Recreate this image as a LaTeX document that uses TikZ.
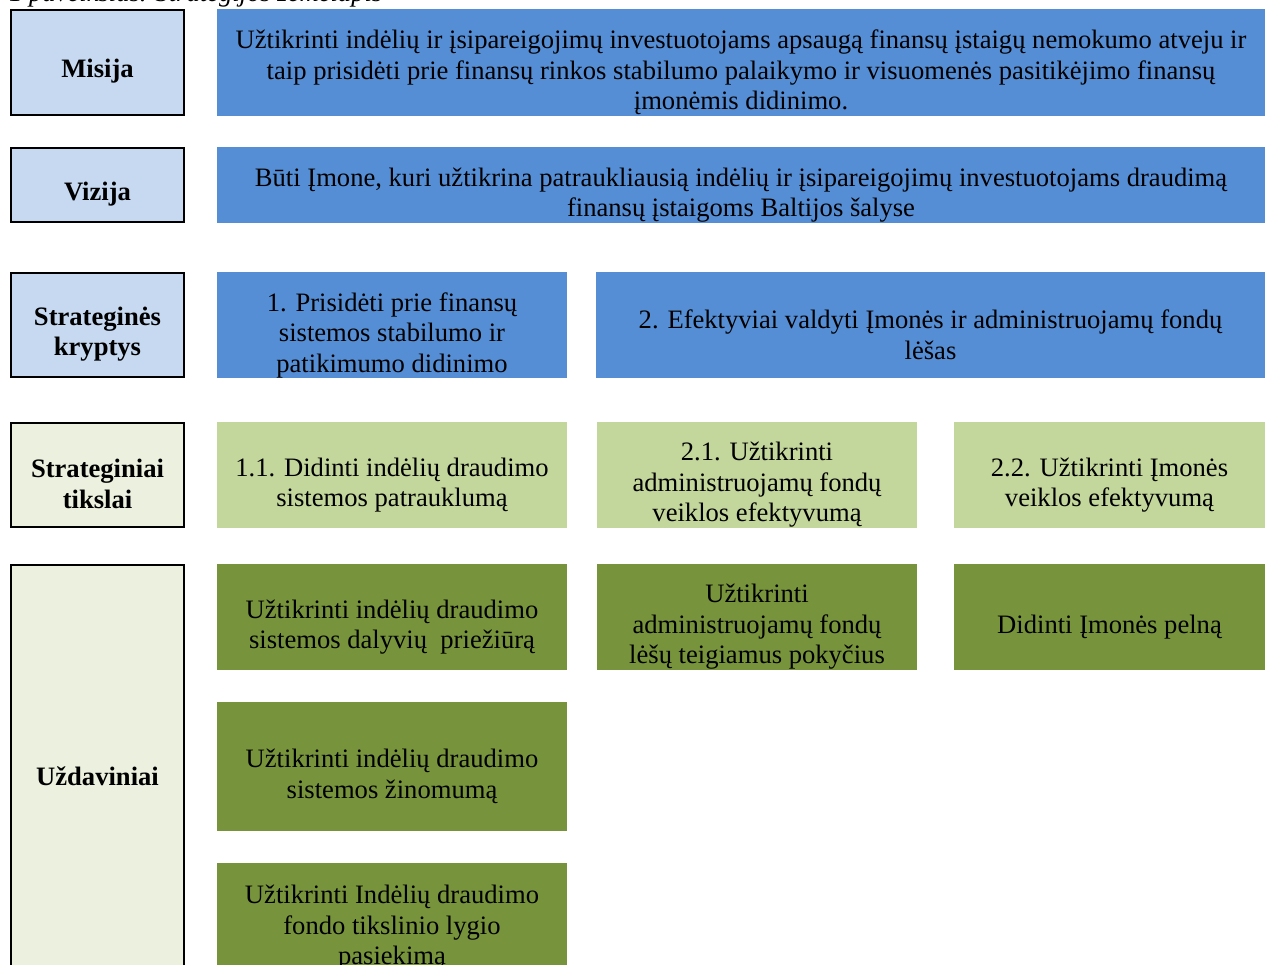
\documentclass[tikz,border=0pt]{standalone}
\usepackage{fontspec}
\setmainfont{Liberation Serif}
\newfontfamily\tnr{Liberation Serif}
\definecolor{cblue}{HTML}{558ED5}
\definecolor{clblue}{HTML}{C6D9F1}
\definecolor{clgreen}{HTML}{C3D69B}
\definecolor{cdgreen}{HTML}{77933C}
\definecolor{cpgreen}{HTML}{EBF1DE}
\tikzset{
  base/.style={anchor=north west, inner sep=0pt, outer sep=0pt},
  lbl/.style={base, draw=black, line width=2.4pt},
  blu/.style={base, fill=cblue},
  lgr/.style={base, fill=clgreen},
  dgr/.style={base, fill=cdgreen},
  sz/.style 2 args={minimum width=#1pt, minimum height=#2pt},
  txt/.style={inner sep=0pt, align=center, text=black, font=\tnr\fontsize{26.6}{30.5}\selectfont},
  btxt/.style={txt, font=\tnr\fontsize{26.6}{30.5}\selectfont\bfseries},
}
\begin{document}
\begin{tikzpicture}[x=1pt,y=-1pt]
\useasboundingbox (0,0) rectangle (1268,965);
% caption (cut at top)
\node[anchor=base west, inner sep=0pt, font=\tnr\fontsize{26.6}{30.5}\selectfont\itshape] (cap) at (9,1.5) {1 paveikslas. Strategijos žemėlapis};
% left labels
\node[lbl, fill=clblue, sz={173}{105}] (misija) at (11,10) {};
\node[btxt] (misijat) at ([yshift=-9pt]misija.center) {Misija};
\node[lbl, fill=clblue, sz={173}{74}] (vizija) at (11,148) {};
\node[btxt] (vizijat) at ([yshift=-9pt]vizija.center) {Vizija};
\node[lbl, fill=clblue, sz={173}{104}] (kryptys) at (11,273) {};
\node[btxt] (kryptyst) at ([yshift=-9pt]kryptys.center) {Strateginės\\kryptys};
\node[lbl, fill=cpgreen, sz={173}{104}] (tikslai) at (11,423) {};
\node[btxt] (tikslait) at ([yshift=-9pt]tikslai.center) {Strateginiai\\tikslai};
\node[lbl, fill=cpgreen, sz={173}{404}] (uzd) at (11,565) {};
\node[btxt] (uzdt) at ([yshift=-9pt]uzd.center) {Uždaviniai};
% mission & vision
\node[blu, sz={1048}{107}] (m) at (217,9) {};
\node[txt] (mt) at ([yshift=-10pt]m.center) {Užtikrinti indėlių ir įsipareigojimų investuotojams apsaugą finansų įstaigų nemokumo atveju ir\\taip prisidėti prie finansų rinkos stabilumo palaikymo ir visuomenės pasitikėjimo finansų\\įmonėmis didinimo.};
\node[blu, sz={1048}{76}] (v) at (217,147) {};
\node[txt] (vt) at ([yshift=-10pt]v.center) {Būti Įmone, kuri užtikrina patraukliausią indėlių ir įsipareigojimų investuotojams draudimą\\finansų įstaigoms Baltijos šalyse};
% directions
\node[blu, sz={350}{106}] (k1) at (217,272) {};
\node[txt] (k1t) at ([yshift=-10pt]k1.center) {1. Prisidėti prie finansų\\sistemos stabilumo ir\\patikimumo didinimo};
\node[blu, sz={669}{106}] (k2) at (596,272) {};
\node[txt] (k2t) at ([yshift=-10pt]k2.center) {2. Efektyviai valdyti Įmonės ir administruojamų fondų\\lėšas};
% goals
\node[lgr, sz={350}{106}] (t11) at (217,422) {};
\node[txt] (t11t) at ([yshift=-10pt]t11.center) {1.1. Didinti indėlių draudimo\\sistemos patrauklumą};
\node[lgr, sz={320}{106}] (t21) at (597,422) {};
\node[txt] (t21t) at ([yshift=-10pt]t21.center) {2.1. Užtikrinti\\administruojamų fondų\\veiklos efektyvumą};
\node[lgr, sz={311}{106}] (t22) at (954,422) {};
\node[txt] (t22t) at ([yshift=-10pt]t22.center) {2.2. Užtikrinti Įmonės\\veiklos efektyvumą};
% tasks
\node[dgr, sz={350}{106}] (u1) at (217,564) {};
\node[txt] (u1t) at ([yshift=-10pt]u1.center) {Užtikrinti indėlių draudimo\\sistemos dalyvių\ \ priežiūrą};
\node[dgr, sz={320}{106}] (u2) at (597,564) {};
\node[txt] (u2t) at ([yshift=-10pt]u2.center) {Užtikrinti\\administruojamų fondų\\lėšų teigiamus pokyčius};
\node[dgr, sz={311}{106}] (u3) at (954,564) {};
\node[txt] (u3t) at ([yshift=-10pt]u3.center) {Didinti Įmonės pelną};
\node[dgr, sz={350}{129}] (u4) at (217,702) {};
\node[txt] (u4t) at ([yshift=-10pt]u4.center) {Užtikrinti indėlių draudimo\\sistemos žinomumą};
\node[dgr, sz={350}{110}] (u5) at (217,863) {};
\node[txt] (u5t) at ([yshift=-10pt]u5.center) {Užtikrinti Indėlių draudimo\\fondo tikslinio lygio\\pasiekimą};
\end{tikzpicture}
\end{document}
